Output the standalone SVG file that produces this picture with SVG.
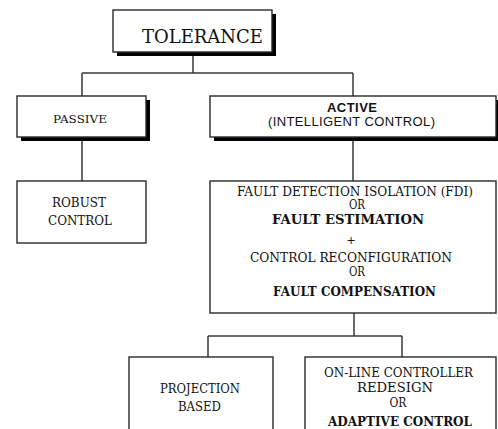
<svg xmlns="http://www.w3.org/2000/svg" width="498" height="429" viewBox="0 0 498 429">
<style>
.box{fill:#fff;stroke:#2a2a2a;stroke-width:1.4}
.sh{fill:#000}
.ln{fill:none;stroke:#3a3a3a;stroke-width:1.5}
.s{fill:#111;text-anchor:middle;font-family:'DejaVu Serif','Liberation Serif',serif}
.a{fill:#111;text-anchor:middle;font-size:13px;font-family:'Liberation Sans',Arial,sans-serif}
</style>
<rect width="498" height="429" fill="#fff"/>
<g id="connectors">
<path class="ln" d="M193 52V73M82 73H353M82 73V96M353 73V96M82 137V181M353 137V181M354 313V336M208 336H402M208 336V357M402 336V357"/>
</g>
<g id="tolerance">
<rect class="sh" x="117" y="14" width="159" height="42"/>
<rect class="box" x="113" y="10" width="159" height="42"/>
<text class="s" x="202.5" y="43" font-size="19" textLength="121" lengthAdjust="spacingAndGlyphs">TOLERANCE</text>
</g>
<g id="passive">
<rect class="sh" x="21" y="100" width="129" height="41"/>
<rect class="box" x="17" y="96" width="129" height="41"/>
<text class="s" x="80" y="123" font-size="11.5" textLength="54" lengthAdjust="spacingAndGlyphs">PASSIVE</text>
</g>
<g id="active">
<rect class="sh" x="214" y="100" width="287" height="41"/>
<rect class="box" x="210" y="96" width="286" height="41"/>
<text class="a" font-weight="bold" x="352" y="112" textLength="50" lengthAdjust="spacing">ACTIVE</text>
<text class="a" x="351.5" y="125.5" textLength="167" lengthAdjust="spacing">(INTELLIGENT CONTROL)</text>
</g>
<g id="robust">
<rect class="box" x="17" y="181" width="129" height="62"/>
<text class="s" x="79" y="207" font-size="12.5" textLength="54" lengthAdjust="spacingAndGlyphs">ROBUST</text>
<text class="s" x="80" y="225" font-size="12.5" textLength="64" lengthAdjust="spacingAndGlyphs">CONTROL</text>
</g>
<g id="fdi">
<rect class="box" x="210" y="181" width="286" height="132"/>
<text class="s" x="355" y="196" font-size="12.5" textLength="236" lengthAdjust="spacingAndGlyphs">FAULT DETECTION ISOLATION (FDI)</text>
<text class="s" x="357" y="209" font-size="12" textLength="16" lengthAdjust="spacingAndGlyphs">OR</text>
<text class="s" font-weight="bold" x="348" y="224" font-size="13.5" textLength="152" lengthAdjust="spacingAndGlyphs">FAULT ESTIMATION</text>
<text class="s" x="351" y="244" font-size="11">+</text>
<text class="s" x="351" y="262" font-size="12.5" textLength="202" lengthAdjust="spacingAndGlyphs">CONTROL RECONFIGURATION</text>
<text class="s" x="357" y="276" font-size="12" textLength="16" lengthAdjust="spacingAndGlyphs">OR</text>
<text class="s" font-weight="bold" x="354.5" y="296" font-size="13.5" textLength="163" lengthAdjust="spacingAndGlyphs">FAULT COMPENSATION</text>
</g>
<g id="projection">
<rect class="box" x="129" y="357" width="144" height="80"/>
<text class="s" x="200" y="393" font-size="12.5" textLength="80" lengthAdjust="spacingAndGlyphs">PROJECTION</text>
<text class="s" x="199.5" y="411" font-size="12.5" textLength="43" lengthAdjust="spacingAndGlyphs">BASED</text>
</g>
<g id="online">
<rect class="box" x="305" y="357" width="191" height="80"/>
<text class="s" x="398.5" y="377" font-size="12.5" textLength="149" lengthAdjust="spacingAndGlyphs">ON-LINE CONTROLLER</text>
<text class="s" x="395" y="392" font-size="12.5" textLength="76" lengthAdjust="spacingAndGlyphs">REDESIGN</text>
<text class="s" x="398" y="407" font-size="12" textLength="17" lengthAdjust="spacingAndGlyphs">OR</text>
<text class="s" font-weight="bold" x="400" y="426" font-size="13.5" textLength="144" lengthAdjust="spacingAndGlyphs">ADAPTIVE CONTROL</text>
</g>
</svg>
